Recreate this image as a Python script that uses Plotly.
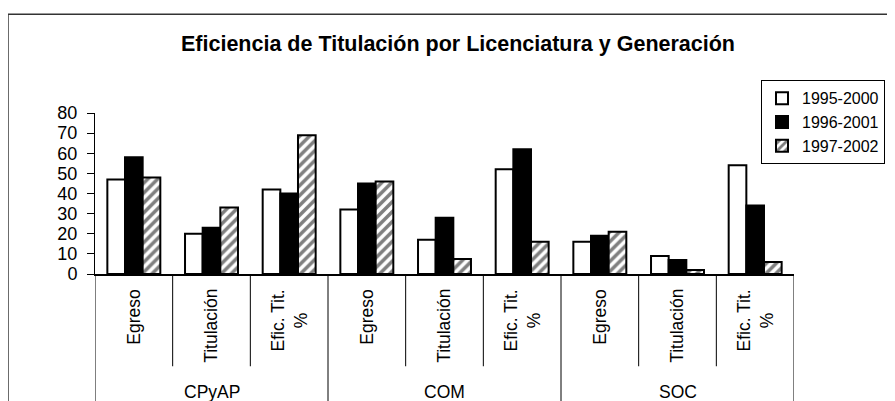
import plotly.graph_objects as go

# ---- data ----
groups = ["CPyAP", "COM", "SOC"]
subcats = ["Egreso", "Titulación", "Efic. Tit.<br>%"]
series_names = ["1995-2000", "1996-2001", "1997-2002"]
v_1995_2000 = [47, 20, 42, 32, 17, 52, 16, 9, 54]
v_1996_2001 = [58, 23, 40, 45, 28, 62, 19, 7, 34]
v_1997_2002 = [48, 33, 69, 46, 7.5, 16, 21, 2, 6]
y_ticks = [0, 10, 20, 30, 40, 50, 60, 70, 80]

FONT = "Arial, Liberation Sans, sans-serif"

labels = [s for g in groups for s in subcats]
idx = list(range(len(labels)))

fig = go.Figure()
styles = [
    dict(color="white"),
    dict(color="black"),
    dict(color="white", pattern=dict(shape="/", fgcolor="black", bgcolor="white", size=7, solidity=0.5)),
]
for name, vals, st in zip(series_names, [v_1995_2000, v_1996_2001, v_1997_2002], styles):
    fig.add_trace(go.Bar(
        x=idx, y=vals, name=name,
        marker=dict(line=dict(color="black", width=2), **st),
    ))

# inner category labels (rotated)
for i, lab in zip(idx, labels):
    fig.add_annotation(x=i, xref="x", y=-0.083, yref="paper", text=lab,
                       textangle=-90, showarrow=False, xanchor="center", yanchor="top",
                       align="center", font=dict(family=FONT, size=17.5, color="black"))
# group labels
n = len(subcats)
for gi, g in enumerate(groups):
    fig.add_annotation(x=gi * n + (n - 1) / 2, xref="x", y=-0.735, yref="paper", text=g,
                       showarrow=False, xanchor="center", yanchor="middle",
                       font=dict(family=FONT, size=17.5, color="black"))

# separators
shapes = []
for b in range(len(labels) + 1):
    xb = b - 0.5
    long = (b % n == 0)
    shapes.append(dict(type="line", xref="x", yref="paper", x0=xb, x1=xb,
                       y0=0, y1=(-0.9 if long else -0.573),
                       line=dict(color="black", width=1)))
# outer chart frame
shapes.append(dict(type="rect", xref="paper", yref="paper", x0=-0.1245, x1=1.3, y0=-1.2, y1=1.613,
                   line=dict(color="#333333", width=1.5), fillcolor="rgba(0,0,0,0)", layer="below"))

# page body has an 8px default margin, so offsets are reduced by 8px
fig.update_layout(
    width=895, height=401,
    margin=dict(l=87, r=109, t=105, b=135, autoexpand=False),
    paper_bgcolor="white", plot_bgcolor="white",
    barmode="group", bargap=0.318, bargroupgap=0,
    font=dict(family=FONT, size=17, color="black"),
    title=dict(text="<b>Eficiencia de Titulación por Licenciatura y Generación</b>",
               x=450 / 895, xref="container", xanchor="center",
               y=1 - 35 / 401, yref="container", yanchor="middle",
               font=dict(family=FONT, size=21.5, color="black")),
    xaxis=dict(range=[-0.5, len(labels) - 0.5], showticklabels=False, ticks="",
               showline=True, linecolor="black", linewidth=1.5, showgrid=False, zeroline=False,
               fixedrange=True),
    yaxis=dict(range=[0, 80], tickvals=y_ticks, ticks="outside", ticklen=7, tickcolor="black",
               showline=True, linecolor="black", linewidth=1, showgrid=False, zeroline=False,
               tickfont=dict(family=FONT, size=18, color="black"), ticklabelstandoff=6),
    legend=dict(x=(753 - 87) / 699, y=(273.7 - 8 - 72) / 161, xref="paper", yref="paper",
                xanchor="left", yanchor="top",
                bordercolor="black", borderwidth=1, bgcolor="white",
                font=dict(family=FONT, size=16, color="black"), tracegroupgap=0),
    shapes=shapes,
    showlegend=True,
)

fig.write_html("out.html")
